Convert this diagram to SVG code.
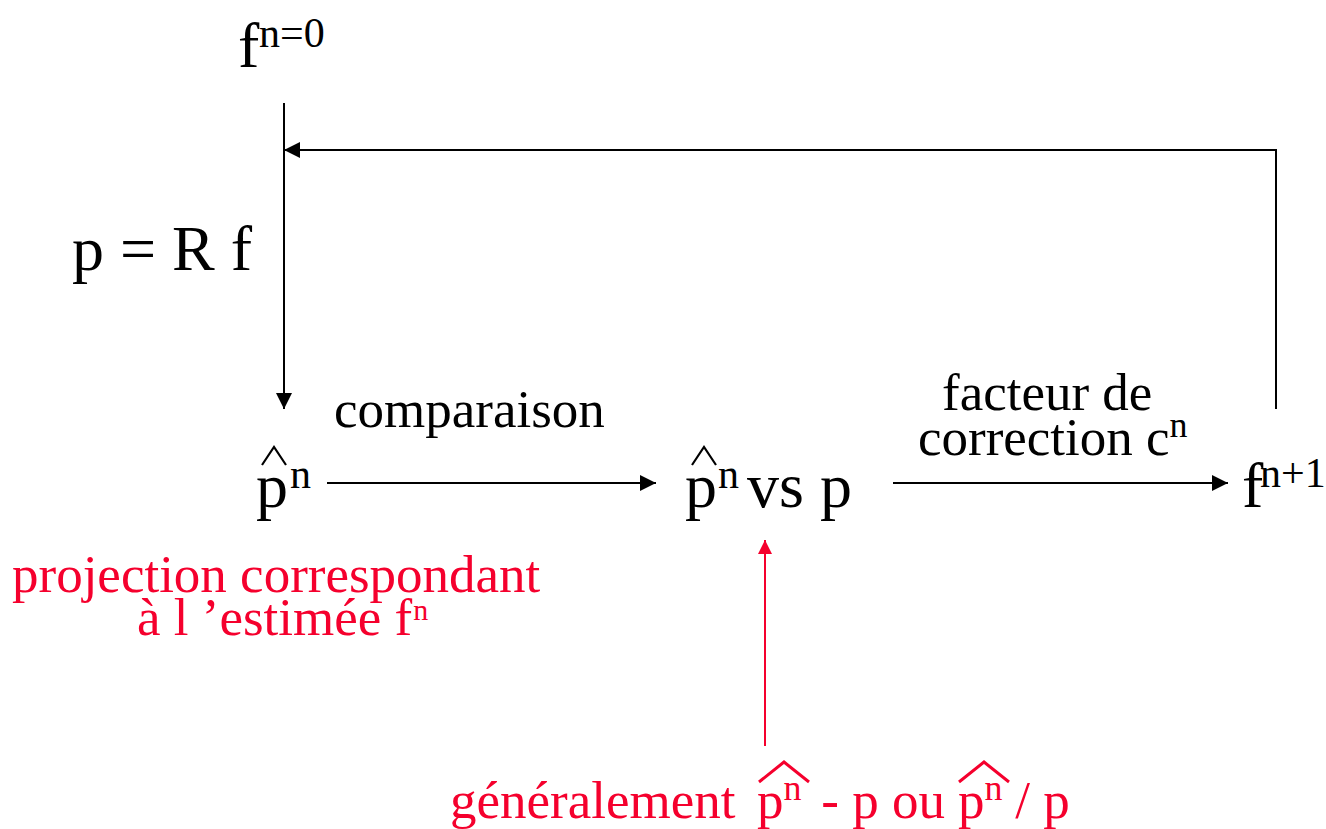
<svg xmlns="http://www.w3.org/2000/svg" width="1326" height="829" viewBox="0 0 1326 829" font-family="'Liberation Serif', 'Times New Roman', serif">
<defs>
<marker id="ah" markerUnits="userSpaceOnUse" markerWidth="16" markerHeight="16" refX="16" refY="8" orient="auto">
<path d="M0,0 L16,8 L0,16 z" fill="#000"/>
</marker>
<marker id="ahr" markerUnits="userSpaceOnUse" markerWidth="14" markerHeight="14" refX="14" refY="7" orient="auto">
<path d="M0,0 L14,7 L0,14 z" fill="#f5002d"/>
</marker>
<style>
.big{font-size:64px;fill:#000;}
.sup{font-size:42px;}
.lbl{font-size:53px;fill:#000;}
.red{font-size:53px;fill:#f5002d;}
.sm{font-size:36px;}
.hat{fill:none;stroke:#000;stroke-width:2.2;}
.hatr{fill:none;stroke:#f5002d;stroke-width:3;}
.c{fill:none;stroke:#000;stroke-width:2;}
.cr{fill:none;stroke:#f5002d;stroke-width:2;}
</style>
</defs>
<rect width="1326" height="829" fill="#fff"/>
<g id="connectors">
<line class="c" x1="284" y1="103" x2="284" y2="409" marker-end="url(#ah)"/>
<polyline class="c" points="1276,409 1276,150 284,150" marker-end="url(#ah)"/>
<line class="c" x1="327" y1="483" x2="656" y2="483" marker-end="url(#ah)"/>
<line class="c" x1="893" y1="483" x2="1228" y2="483" marker-end="url(#ah)"/>
<line class="cr" x1="765" y1="746" x2="765" y2="540" marker-end="url(#ahr)"/>
</g>
<g id="f0">
<text class="big" x="238" y="67">f<tspan class="sup" x="259" y="47">n=0</tspan></text>
</g>
<g id="eq">
<text class="big" x="72" y="270">p = R f</text>
</g>
<g id="pn">
<polyline class="hat" points="262,465 274,447 286,465"/>
<text class="big" x="256" y="507">p<tspan class="sup" x="290" y="488">n</tspan></text>
</g>
<g id="comparaison">
<text class="lbl" x="334" y="427">comparaison</text>
</g>
<g id="pnvsp">
<polyline class="hat" points="692,465 704,447 716,465"/>
<text class="big" x="685" y="507">p<tspan class="sup" x="718" y="488">n</tspan><tspan x="731" y="507"> vs p</tspan></text>
</g>
<g id="facteur">
<text class="lbl" x="942" y="410">facteur de</text>
<text class="lbl" x="918" y="455">correction c<tspan class="sm" dy="-18">n</tspan></text>
</g>
<g id="fn1">
<text class="big" x="1242" y="507">f<tspan class="sup" x="1260" y="487">n+1</tspan></text>
</g>
<g id="projection">
<text class="red" x="12" y="592">projection correspondant</text>
<text class="red" x="137" y="635">à l ’estimée f<tspan style="font-size:30px" dx="1" dy="-15">n</tspan></text>
</g>
<g id="generalement">
<polyline class="hatr" points="759,782 784,762 809,782"/>
<polyline class="hatr" points="959,782 984,762 1009,782"/>
<text class="red" x="450" y="818">généralement <tspan x="757">p</tspan><tspan class="sm" dy="-18">n</tspan><tspan x="808" dy="18"> - p ou </tspan><tspan x="958">p</tspan><tspan class="sm" dy="-18">n</tspan><tspan x="1002" dy="18"> / p</tspan></text>
</g>
</svg>
